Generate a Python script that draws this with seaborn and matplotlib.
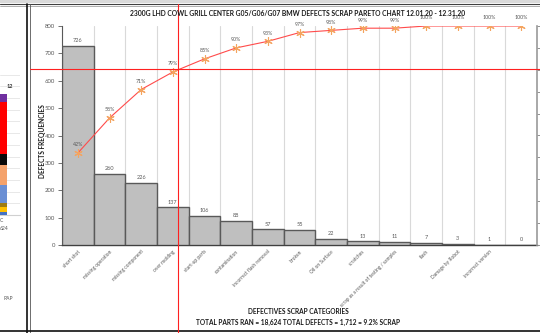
import matplotlib
matplotlib.use("Agg")
import matplotlib.pyplot as plt
import seaborn as sns
import numpy as np
import pandas as pd
from matplotlib.lines import Line2D
from matplotlib.patches import Rectangle
from matplotlib.ticker import MultipleLocator, FixedLocator

# ---------------- data ----------------
categories = ["short shot", "missing operation", "missing component", "over molding",
              "start-up parts", "contamination", "incorrect flash removal", "broken",
              "Oil on Surface", "scratches", "scrap as a result of testing / samples",
              "flash", "Damage by Robot", "incorrect version", ""]
defects = [726, 260, 226, 137, 106, 88, 57, 55, 22, 13, 11, 7, 3, 1, 0]
cum_pct = [0.42, 0.58, 0.71, 0.79, 0.85, 0.90, 0.93, 0.97, 0.98, 0.99, 0.99, 1.00, 1.00, 1.00, 1.00]
cum_labels = ["42%", "58%", "71%", "79%", "85%", "90%", "93%", "97%", "98%", "99%", "99%",
              "100%", "100%", "100%", "100%"]
title = "2300G LHD COWL GRILL CENTER G05/G06/G07 BMW DEFECTS SCRAP PARETO CHART 12.01.20 - 12.31.20"
xlabel1 = "DEFECTIVES SCRAP CATEGORIES"
xlabel2 = "TOTAL PARTS RAN = 18,624 TOTAL DEFECTS = 1,712 = 9.2% SCRAP"
ylabel = "DEFECTS FREQUENCIES"

# cropped neighbour chart on the left edge (stacked bar, bottom to top)
left_vals = [3, 5, 4, 18, 20, 11, 52, 8]
left_colors = ["#4472C4", "#FFC000", "#A07C10", "#6A8FD4", "#F4A26B", "#0A0A0A", "#FF0000", "#7030A0"]

# ---------------- figure ----------------
sns.set_theme(style="white")
plt.rcParams["font.family"] = ["Lato", "DejaVu Sans"]
W, H = 540, 333
fig = plt.figure(figsize=(W / 100, H / 100), dpi=100)

def fx(px):
    return px / W

def fy(py):
    return 1 - py / H

# main axes
ax = fig.add_axes([fx(62), fy(245), fx(537) - fx(62), fy(26) - fy(245)])
df = pd.DataFrame({"pos": np.arange(len(defects)), "defects": defects})
sns.barplot(data=df, x="pos", y="defects", ax=ax, width=1.0, color="#BFBFBF",
            saturation=1, edgecolor="#595959", linewidth=1.0, zorder=3)
ax.set_xlim(-0.5, len(defects) - 0.5)
ax.set_ylim(0, 800)
ax.yaxis.set_major_locator(MultipleLocator(100))
ax.set_xticks(np.arange(len(categories)))
ax.set_xticklabels(categories, rotation=45, ha="right", rotation_mode="anchor",
                   fontsize=3.5, color="#595959")
ax.tick_params(axis="x", length=0, pad=3)
ax.tick_params(axis="y", labelsize=4.3, labelcolor="#595959", length=3, width=0.6,
               color="#595959", direction="out", left=True, pad=2)
ax.xaxis.set_minor_locator(FixedLocator(np.arange(-0.5, len(defects), 1.0)))
ax.grid(which="minor", axis="x", color="#D9D9D9", linewidth=0.8, zorder=0)
ax.grid(which="major", visible=False)
ax.set_xlabel("")
ax.set_ylabel("")
ax.spines["top"].set_visible(False)
ax.spines["left"].set_color("#595959")
ax.spines["left"].set_linewidth(0.8)
ax.spines["bottom"].set_color("#404040")
ax.spines["bottom"].set_linewidth(1.0)
ax.spines["right"].set_visible(False)
ax.bar_label(ax.containers[0], labels=[str(v) for v in defects], fontsize=4.0,
             color="#595959", padding=2)

# cumulative percent on secondary axis
ax2 = ax.twinx()
ax2.set_ylim(0, 1)
ax2.set_xlim(-0.5, len(defects) - 0.5)
cdf = pd.DataFrame({"pos": np.arange(len(cum_pct)), "cum": cum_pct})
sns.lineplot(data=cdf, x="pos", y="cum", ax=ax2, color="#FF4B4B", linewidth=0.8,
             marker=(6, 2, 0), markersize=6, markeredgecolor="#F4A460",
             markeredgewidth=0.8, zorder=4)
for i, (v, lab) in enumerate(zip(cum_pct, cum_labels)):
    ax2.annotate(lab, (i, v), xytext=(0, 4), textcoords="offset points",
                 ha="center", va="bottom", fontsize=3.8, color="#595959")
ax2.yaxis.set_major_locator(MultipleLocator(0.1))
ax2.set_yticklabels([])
ax2.set_ylabel("")
ax2.tick_params(axis="y", right=True, length=3, width=0.6, color="#808080", direction="out")
ax2.spines["top"].set_visible(False)
ax2.spines["left"].set_visible(False)
ax2.spines["bottom"].set_visible(False)
ax2.spines["right"].set_color("#9A9A9A")
ax2.spines["right"].set_linewidth(1.2)
ax2.grid(False)

# texts
fig.text(fx(298), fy(14), title, ha="center", va="center", fontsize=4.9,
         fontweight="bold", color="#1A1A1A")
fig.text(fx(42), fy(141), ylabel, ha="center", va="center", rotation=90,
         fontsize=4.8, fontweight="bold", color="#1A1A1A")
fig.text(fx(298), fy(312), xlabel1, ha="center", va="center", fontsize=4.7,
         fontweight="bold", color="#1A1A1A")
fig.text(fx(298), fy(322), xlabel2, ha="center", va="center", fontsize=4.7,
         fontweight="bold", color="#1A1A1A")

# cropped neighbour chart on the left
axl = fig.add_axes([0, fy(215), fx(20), fy(73) - fy(215)])
bottom = 0
for v, c in zip(left_vals, left_colors):
    axl.bar([0], [v], bottom=bottom, width=1.0, align="edge", color=c, linewidth=0, zorder=3)
    bottom += v
axl.set_xlim(0, 20 / 7)
axl.set_ylim(0, 142)
axl.yaxis.set_major_locator(MultipleLocator(11.7))
axl.grid(axis="y", color="#E4E4E4", linewidth=0.6, zorder=0)
axl.grid(axis="x", visible=False)
axl.set_xticks([])
axl.set_yticklabels([])
axl.tick_params(length=0)
for s in ["top", "left", "right"]:
    axl.spines[s].set_visible(False)
axl.spines["bottom"].set_color("#D0D0D0")
axl.spines["bottom"].set_linewidth(0.8)
fig.text(fx(13), fy(87), "12", ha="right", va="center", fontsize=4.0, fontweight="bold", color="#333333")
fig.text(fx(3), fy(221), "C", ha="right", va="center", fontsize=3.6, color="#595959")
fig.text(fx(8), fy(228), "624", ha="right", va="center", fontsize=3.6, color="#595959")
fig.text(fx(13), fy(298), "RAP", ha="right", va="center", fontsize=3.6, color="#595959")

# page frame / borders
fig.add_artist(Rectangle((0, fy(3)), 1, fy(0) - fy(3), transform=fig.transFigure,
                         facecolor="#DADADA", edgecolor="none"))
fig.add_artist(Line2D([0, 1], [fy(3.5), fy(3.5)], transform=fig.transFigure, color="#404040", lw=0.8))
fig.add_artist(Line2D([0, 1], [fy(5.5), fy(5.5)], transform=fig.transFigure, color="#909090", lw=0.5))
fig.add_artist(Line2D([fx(27), fx(27)], [0, fy(4)], transform=fig.transFigure, color="#111111", lw=1.2))
fig.add_artist(Line2D([fx(30), fx(30)], [0, fy(4)], transform=fig.transFigure, color="#555555", lw=0.6))
fig.add_artist(Line2D([0, 1], [fy(330.5), fy(330.5)], transform=fig.transFigure, color="#111111", lw=1.2))

# red crosshair
fig.add_artist(Line2D([fx(178), fx(178)], [0, fy(4)], transform=fig.transFigure, color="#FF2020", lw=0.8))
fig.add_artist(Line2D([fx(30), 1], [fy(69), fy(69)], transform=fig.transFigure, color="#FF2020", lw=0.8))

fig.savefig("out.png", dpi=100)
